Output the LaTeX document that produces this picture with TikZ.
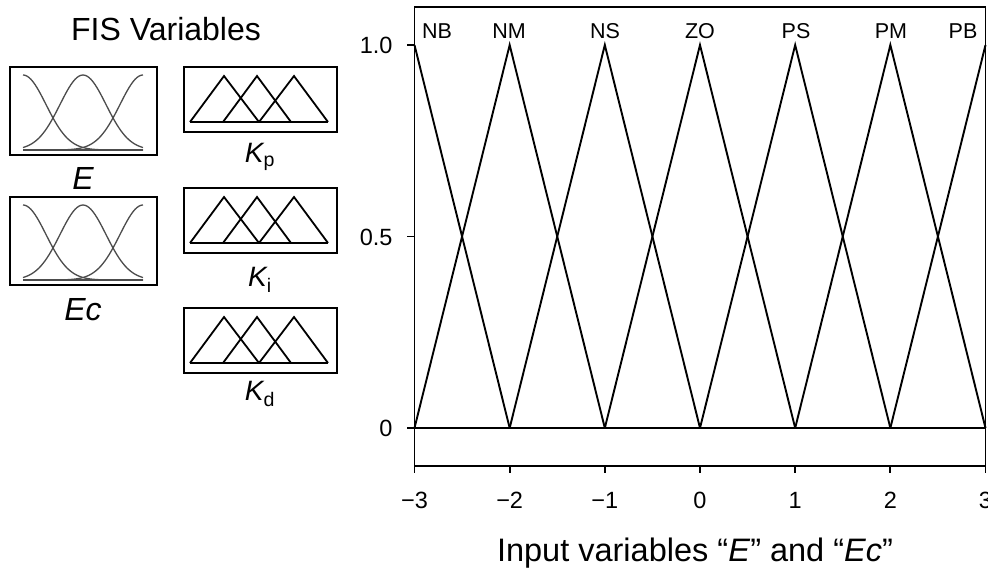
\documentclass[tikz,border=0pt]{standalone}
\usepackage{fontspec}
\setmainfont{Liberation Sans}
\begin{document}
\begin{tikzpicture}[x=1pt,y=-1pt,
  frame/.style={draw=black,line width=1.9pt},
  tri/.style={draw=black,line width=1.8pt,line join=miter},
  gauss/.style={draw=black!70,line width=1.3pt},
  mf/.style={draw=black,line width=1.9pt},
  big/.style={font=\fontsize{32}{36}\selectfont},
  mid/.style={font=\fontsize{28}{32}\selectfont},
  tick/.style={font=\fontsize{23.5}{27}\selectfont,anchor=base},
  lab/.style={font=\fontsize{21.5}{25}\selectfont,anchor=base},
]
\useasboundingbox (0,0) rectangle (988,575);
\fill[white] (0,0) rectangle (988,575);

\node[big] (fis) at (166,29) {FIS Variables};

% Gaussian boxes (E, Ec)
\foreach \ty in {67,197}{
  \begin{scope}[shift={(10pt,-\ty pt)}]
    \draw[frame] (0,0) rectangle (147,88);
    \draw[gauss] (13,83) -- (133,83);
    \foreach \c in {13,73,133}
      \draw[gauss,domain=13:133,samples=61,smooth] plot (\x,{83-75*exp(-(\x-\c)*(\x-\c)/1058)});
  \end{scope}
}
\node[big] (E) at (83,178) {\itshape E};
\node[big] (Ec) at (83,310) {\itshape Ec};

% Triangular boxes (Kp, Ki, Kd)
\foreach \ty in {67,188,308}{
  \begin{scope}[shift={(184pt,-\ty pt)}]
    \draw[frame] (0,0) rectangle (153,65);
    \draw[tri] (6,55) -- (144,55);
    \draw[tri] (6,55) -- (40,9) -- (75,55);
    \draw[tri] (39,55) -- (73,9) -- (107,55);
    \draw[tri] (75,55) -- (110,9) -- (144,55);
  \end{scope}
}
\node[mid] (Kp) at (260,157) {\itshape K\textsubscript{\upshape p}};
\node[mid] (Ki) at (260,280) {\itshape K\textsubscript{\upshape i}};
\node[mid] (Kd) at (260,394) {\itshape K\textsubscript{\upshape d}};

% Membership function plot
\begin{scope}[shift={(700pt,-428pt)},x=95.17pt,y=383pt]
  \draw[frame] (-3,-0.1) rectangle (3,1.1);
  \draw[mf] (-3,0) -- (3,0);
  \draw[mf] (-3,1) -- (-2,0);
  \foreach \p in {-2,...,2}
    \draw[mf] (\p-1,0) -- (\p,1) -- (\p+1,0);
  \draw[mf] (2,0) -- (3,1);
  \foreach \v in {0,0.5,1}
    \draw[frame] (-3,\v) -- ++(-7pt,0);
  \foreach \u in {-3,...,3}
    \draw[frame] (\u,-0.1) -- ++(0,-7pt);
\end{scope}

\node[tick,anchor=base east] (y10) at (396,53.5) {1.0};
\node[tick,anchor=base east] (y05) at (396,245.5) {0.5};
\node[tick,anchor=base east] (y00) at (396,436.5) {0};

\foreach \u/\s [count=\i] in {-3/{−3},-2/{−2},-1/{−1},0/{0},1/{1},2/{2},3/{3}}
  \node[tick] (xt\i) at ({700+95.17*\u},508.5) {\s};

\foreach \px/\s in {437/NB,509/NM,605/NS,700/ZO,796/PS,891/PM,963/PB}
  \node[lab] (l\s) at (\px,38.5) {\s};

\node[font=\fontsize{32.5}{36}\selectfont] (xtitle) at (695,553) {Input variables “\textit{E}” and “\textit{Ec}”};
\end{tikzpicture}
\end{document}
